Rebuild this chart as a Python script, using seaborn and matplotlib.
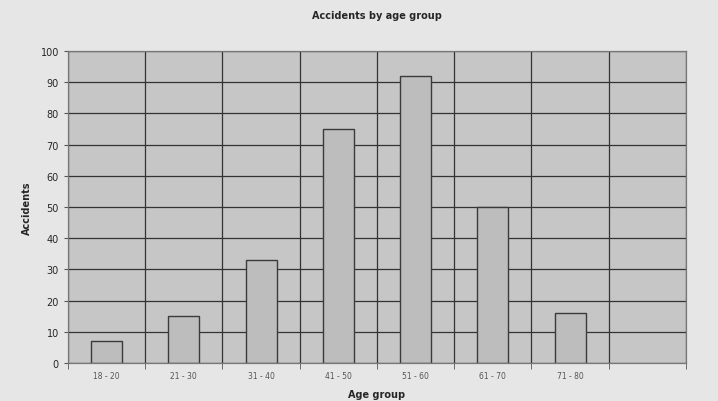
import matplotlib
matplotlib.use("Agg")
import matplotlib.pyplot as plt
import seaborn as sns
import pandas as pd
import numpy as np

age_groups = ["18 - 20", "21 - 30", "31 - 40", "41 - 50", "51 - 60", "61 - 70", "71 - 80"]
accidents = [7, 15, 33, 75, 92, 50, 16]

df = pd.DataFrame({"Age group": age_groups, "Accidents": accidents})

sns.set_style("white")
plt.rcParams['font.family'] = ['DejaVu Sans']

fig = plt.figure(figsize=(7.18, 4.02), dpi=100, facecolor="#e6e6e6")
ax = fig.add_axes([0.0947, 0.0945, 0.8607, 0.7761])
ax.set_facecolor("#c6c6c6")

sns.barplot(data=df, x="Age group", y="Accidents", color="#bdbdbd",
            edgecolor="#3a3a3a", linewidth=1.0, width=0.4, saturation=1, ax=ax)

ax.set_xlim(-0.5, 7.5)
ax.set_ylim(0, 100)
ax.set_yticks(np.arange(0, 101, 10))
ax.set_xticks(np.arange(-0.5, 8, 1), minor=True)
ax.grid(axis="y", which="major", color="#333333", linewidth=0.9)
ax.grid(axis="x", which="minor", color="#333333", linewidth=0.9)
ax.grid(axis="x", which="major", visible=False)
ax.set_axisbelow(True)

ax.tick_params(axis="y", labelsize=7, length=3, color="#555555", direction="out", left=True)
ax.tick_params(axis="x", which="major", labelsize=5.5, length=0, pad=6, labelcolor="#555555")
ax.tick_params(axis="x", which="minor", length=4, color="#555555", bottom=True)

for s in ax.spines.values():
    s.set_color("#777777")
    s.set_linewidth(0.9)

ax.set_xlabel("Age group", fontsize=7, fontweight="bold", labelpad=6)
ax.set_ylabel("Accidents", fontsize=7, fontweight="bold", labelpad=6)
ax.set_title("Accidents by age group", fontsize=7, fontweight="bold", pad=24)

fig.savefig("out.png", dpi=100, facecolor=fig.get_facecolor())
